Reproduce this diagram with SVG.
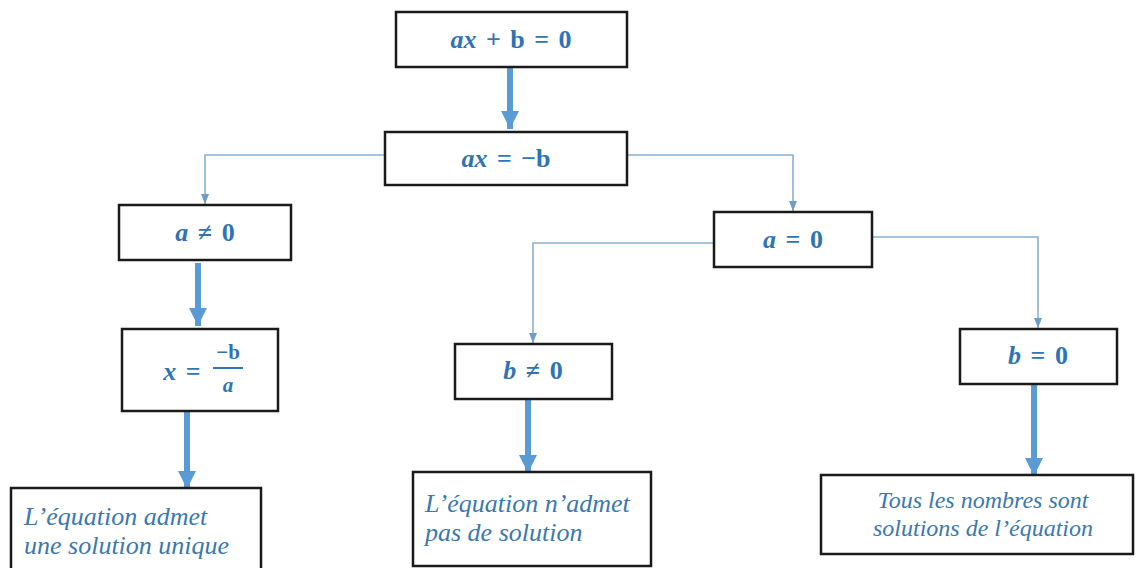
<svg xmlns="http://www.w3.org/2000/svg" width="1139" height="568" viewBox="0 0 1139 568">
<defs>
<style>
.box{fill:#fff;stroke:#1a1a1a;stroke-width:2.5}
.m{font-family:"Liberation Serif","DejaVu Serif",serif;font-weight:bold;font-size:26px;fill:#2E74B5;word-spacing:3px}
.v{font-style:italic}
.t{font-family:"Liberation Serif","Times New Roman",serif;font-style:italic;font-size:26px;fill:#3A78AE}
.thin{fill:none;stroke:#8AAFD3;stroke-width:1.6}
.thick{fill:none;stroke:#5B9BD5;stroke-width:6}
</style>
<marker id="ah" markerWidth="10" markerHeight="8" refX="10" refY="4" orient="auto" markerUnits="userSpaceOnUse"><path d="M0,0 L10,4 L0,8 Z" fill="#6E9CCB"/></marker>
<marker id="ahb" markerWidth="18" markerHeight="18" refX="18" refY="9" orient="auto" markerUnits="userSpaceOnUse"><path d="M0,0 L18,9 L0,18 Z" fill="#5B9BD5"/></marker>
</defs>
<rect width="1139" height="568" fill="#fff"/>
<g id="connectors">
<path class="thick" d="M510,67 V129" marker-end="url(#ahb)"/>
<path class="thin" d="M385,155 H205 V204" marker-end="url(#ah)"/>
<path class="thin" d="M627,155 H793 V211" marker-end="url(#ah)"/>
<path class="thick" d="M198,263 V326" marker-end="url(#ahb)"/>
<path class="thick" d="M187,411 V489" marker-end="url(#ahb)"/>
<path class="thin" d="M714,243 H533 V343" marker-end="url(#ah)"/>
<path class="thin" d="M872,237 H1038 V328" marker-end="url(#ah)"/>
<path class="thick" d="M528,399 V473" marker-end="url(#ahb)"/>
<path class="thick" d="M1034,384 V476" marker-end="url(#ahb)"/>
</g>
<g id="n1"><rect class="box" x="396" y="12" width="231" height="55"/>
<text class="m" x="511" y="48" text-anchor="middle"><tspan class="v">ax</tspan> + b = 0</text></g>
<g id="n2"><rect class="box" x="385" y="132" width="242" height="53"/>
<text class="m" x="506" y="167" text-anchor="middle"><tspan class="v">ax</tspan> = −b</text></g>
<g id="n3"><rect class="box" x="119" y="205" width="172" height="55"/>
<text class="m" x="205" y="241" text-anchor="middle"><tspan class="v">a</tspan> ≠ 0</text></g>
<g id="n4"><rect class="box" x="122" y="329" width="156" height="82"/>
<text class="m" x="182" y="380" text-anchor="middle"><tspan class="v">x</tspan> =</text>
<text class="m" x="228" y="359" text-anchor="middle" style="font-size:21px">−b</text>
<line x1="213" y1="368" x2="243" y2="368" stroke="#2E74B5" stroke-width="2"/>
<text class="m v" x="228" y="392" text-anchor="middle" style="font-size:21px">a</text></g>
<g id="n5"><rect class="box" x="714" y="212" width="158" height="55"/>
<text class="m" x="793" y="248" text-anchor="middle"><tspan class="v">a</tspan> = 0</text></g>
<g id="n6"><rect class="box" x="455" y="344" width="157" height="55"/>
<text class="m" x="533" y="379" text-anchor="middle"><tspan class="v">b</tspan> ≠ 0</text></g>
<g id="n7"><rect class="box" x="960" y="329" width="157" height="55"/>
<text class="m" x="1038" y="364" text-anchor="middle"><tspan class="v">b</tspan> = 0</text></g>
<g id="n8"><rect class="box" x="11" y="488" width="250" height="90"/>
<text class="t" x="24" y="525">L’équation admet</text>
<text class="t" x="24" y="554">une solution unique</text></g>
<g id="n9"><rect class="box" x="413" y="472" width="238" height="94"/>
<text class="t" x="425" y="512">L’équation n’admet</text>
<text class="t" x="425" y="541">pas de solution</text></g>
<g id="n10"><rect class="box" x="821" y="475" width="312" height="79"/>
<text class="t" x="983" y="508" style="font-size:24px" text-anchor="middle">Tous les nombres sont</text>
<text class="t" x="983" y="536" style="font-size:24px" text-anchor="middle">solutions de l’équation</text></g>
</svg>
